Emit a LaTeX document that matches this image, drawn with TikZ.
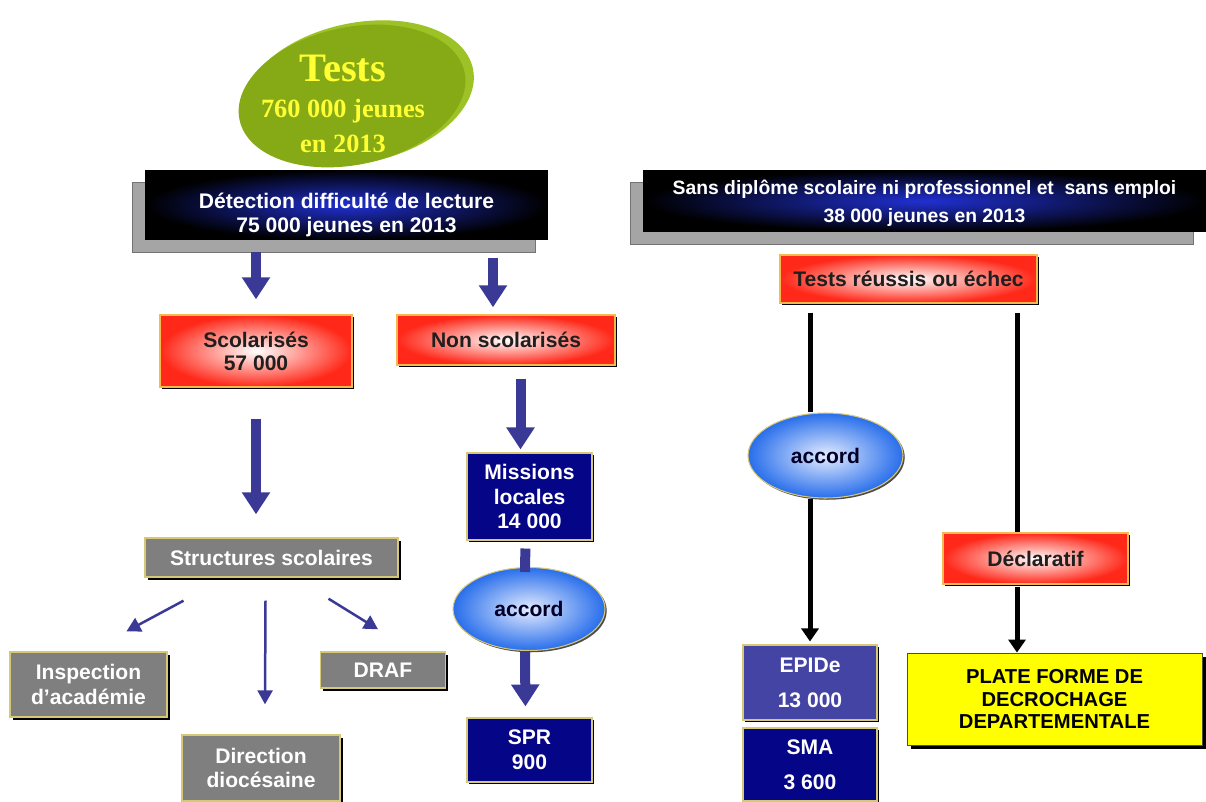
\documentclass[tikz,border=0pt]{standalone}
\usepackage{fontspec}
\setmainfont{Liberation Sans}
\newfontfamily\serifbf{Liberation Serif}
\usepackage{tikz}
\usetikzlibrary{
	arrows.meta,shapes,shadows,calc
}

\definecolor{testgreen}{RGB}{134,170,22}
\definecolor{testrim}{RGB}{156,194,38}
\definecolor{testyellow}{RGB}{255,255,51}
\definecolor{headblue}{RGB}{32,48,210}
\definecolor{shadowgrey}{RGB}{165,165,165}
\definecolor{alertred}{RGB}{255,40,25}
\definecolor{alertrim}{RGB}{245,185,80}
\definecolor{boxgrey}{RGB}{127,127,127}
\definecolor{greyrim}{RGB}{215,200,120}
\definecolor{deepnavy}{RGB}{5,5,135}
\definecolor{epideblue}{RGB}{68,68,165}
\definecolor{arrowblue}{RGB}{58,58,150}
\definecolor{bubbleblue}{RGB}{40,110,235}
\definecolor{bubblelight}{RGB}{228,236,255}
\definecolor{plateyellow}{RGB}{255,255,0}

\begin{document}
\begin{tikzpicture}[x=0.02cm,y=-0.02cm,
	every node/.style={font=\bfseries\fontsize{12}{14}\selectfont},
	headbox/.style={rectangle,inner ysep=0pt,inner color=headblue,outer color=black,text=white,align=center,
		general shadow={shadow xshift=-0.25cm,shadow yshift=-0.25cm,fill=shadowgrey,draw=black!55}},
	redbox/.style={rectangle,inner color=white,outer color=alertred,draw=alertrim,line width=0.8pt,
		text=black!88,align=center,drop shadow={shadow xshift=1.2pt,shadow yshift=-1.2pt,fill=black,opacity=1}},
	greybox/.style={rectangle,fill=boxgrey,draw=greyrim,line width=0.8pt,text=white,align=center,
		drop shadow={shadow xshift=1.5pt,shadow yshift=-1.5pt,fill=black,opacity=1}},
	navybox/.style={rectangle,fill=deepnavy,draw=greyrim,line width=0.6pt,text=white,align=center,
		drop shadow={shadow xshift=1.2pt,shadow yshift=-1.2pt,fill=black,opacity=1}},
	bubble/.style={ellipse,inner color=bubblelight,outer color=bubbleblue,draw=greyrim,line width=0.6pt,
		text=black!85!blue,drop shadow={shadow xshift=1pt,shadow yshift=-1pt,fill=black!70,opacity=1}},
	fatarrow/.style={color=arrowblue,line width=0.2cm,-{Triangle[width=0.54cm,length=0.44cm]}},
	thinarrow/.style={color=arrowblue,line width=0.05cm,-{Triangle[width=0.3cm,length=0.28cm]}},
	blackarrow/.style={color=black,line width=0.1cm,-{Triangle[width=0.34cm,length=0.26cm]}}]
	\useasboundingbox (0,0) rectangle (1206,801);
	% the tests disc
	\node[ellipse,rotate=12,minimum width=4.7cm,minimum height=2.8cm,fill=testrim] (testsrim) at (358,93) {};
	\node[ellipse,rotate=12,minimum width=4.6cm,minimum height=2.75cm,fill=testgreen] (testsdisc) at (352,96) {};
	\node[text=testyellow,align=center,font=\serifbf\bfseries\fontsize{15}{20}\selectfont] (tests) at (343,104)
		{{\fontsize{23}{23}\selectfont Tests}\\760 000 jeunes\\en 2013};
	% nodes, left part
	\node[headbox,minimum width=8.06cm,minimum height=1.4cm] (det) at (346.5,205)
		{\rule{0pt}{20pt}Détection difficulté de lecture\\[-0.6pt]75 000 jeunes en 2013};
	\node[redbox,minimum width=3.84cm,minimum height=1.44cm] (sco) at (256,351) {Scolarisés\\[-1pt]57 000};
	\node[redbox,minimum width=4.36cm,minimum height=1cm] (nonsc) at (506,340) {Non scolarisés};
	\node[greybox,minimum width=5.06cm,minimum height=0.78cm] (struct) at (271.5,557.5) {Structures scolaires};
	\node[greybox,minimum width=3.14cm,minimum height=1.3cm] (insp) at (88.5,684.5) {Inspection\\d’académie};
	\node[greybox,minimum width=2.5cm,minimum height=0.72cm] (draf) at (383,670) {DRAF};
	\node[greybox,minimum width=3.16cm,minimum height=1.32cm] (dir) at (261,768) {Direction\\diocésaine};
	\node[navybox,minimum width=2.5cm,minimum height=1.74cm] (miss) at (529.5,496.5) {Missions\\locales\\14 000};
	\node[bubble,minimum width=3.04cm,minimum height=1.66cm] (acc1) at (529,609) {accord};
	\node[navybox,minimum width=2.5cm,minimum height=1.28cm] (spr) at (529.5,750) {SPR\\900};
	% nodes, right part
	\node[headbox,minimum width=11.26cm,minimum height=1.24cm,font=\bfseries\fontsize{11}{13}\selectfont] (nodip) at (924.5,201)
		{\rule{0pt}{11pt}Sans diplôme scolaire ni professionnel et \ sans emploi\\[3pt]38 000 jeunes en 2013};
	\node[redbox,minimum width=5.14cm,minimum height=0.96cm] (tr) at (908.5,279) {Tests réussis ou échec};
	\node[bubble,minimum width=3.1cm,minimum height=1.7cm] (acc2) at (825.5,455.5) {accord};
	\node[redbox,minimum width=3.7cm,minimum height=1.02cm] (decl) at (1035.5,558.5) {Déclaratif};
	\node[navybox,fill=epideblue,minimum width=2.68cm,minimum height=1.5cm] (epide) at (810,682.5) {EPIDe\\[6pt]13 000};
	\node[navybox,minimum width=2.68cm,minimum height=1.46cm] (sma) at (810,764.5) {SMA\\[6pt]3 600};
	\node[rectangle,fill=plateyellow,draw=black!70,line width=0.5pt,align=center,
		font=\bfseries\fontsize{11.5}{13}\selectfont,minimum width=5.9cm,minimum height=1.84cm,
		drop shadow={shadow xshift=2.5pt,shadow yshift=-2.5pt,fill=black,opacity=1}] (plate) at (1054.5,699)
		{PLATE FORME DE\\DECROCHAGE\\DEPARTEMENTALE};
	%
	\path[fatarrow]
	% under the detection box
	(det.south -| sco.north) edge[shorten <=0.24cm,shorten >=0.3cm] (sco.north)
	($(det.south -| nonsc.north)+(-13,0)$) edge[shorten <=0.36cm,shorten >=0.14cm] ($(nonsc.north)+(-13,0)$)
	% down the two columns
	(sco.south) edge[shorten <=0.62cm,shorten >=0.46cm] (sco.south |- struct.north)
	($(nonsc.south -| miss.north)+(-9,0)$) edge[shorten <=0.26cm,shorten >=0.06cm] ($(miss.north)+(-9,0)$)
	($(miss.south)+(-4,0)$) edge[-,shorten <=0.16cm] ($(acc1.north)+(-4,5)$)
	($(acc1.south)+(-4,0)$) edge[shorten >=0.22cm] ($(spr.north)+(-4,0)$);
	\path[thinarrow]
	% to the school structures
	($(struct.south)+(-88,23)$) edge ($(insp.north)+(38,-20)$)
	($(struct.south)+(-6,23)$) edge ($(dir.north)+(4,-30)$)
	($(struct.south)+(57,21)$) edge ($(draf.north)+(-5,-22)$);
	\path[blackarrow]
	% the two black lines
	(tr.south -| epide.north) edge[-,shorten <=0.18cm] (acc2.north -| epide.north)
	(acc2.south -| epide.north) edge[shorten >=0.06cm] (epide.north)
	($(tr.south -| decl.north)+(-18.5,0)$) edge[-,shorten <=0.18cm] ($(decl.north)+(-18.5,0)$)
	($(decl.south)+(-18.5,0)$) edge[shorten <=0.04cm] ($(plate.north)+(-37.5,0)$);
\end{tikzpicture}
\end{document}
